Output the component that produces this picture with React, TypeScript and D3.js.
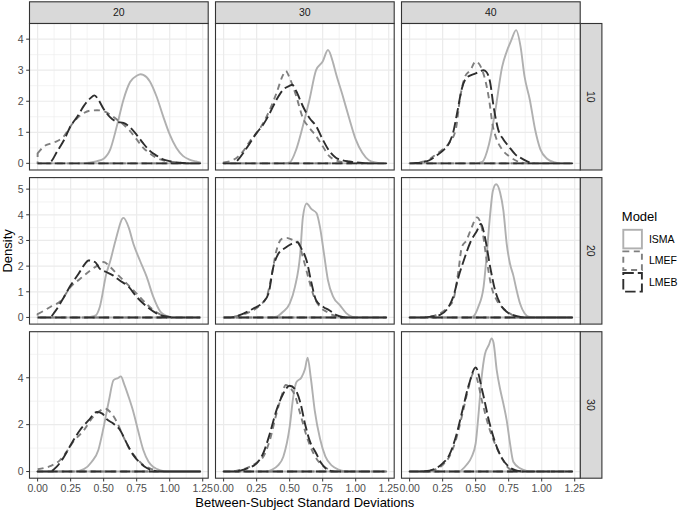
import * as d3 from 'd3';

const colLabels = ['20', '30', '40'];
const rowLabels = ['10', '20', '30'];
const models = ['ISMA', 'LMEF', 'LMEB'];
const xTicks = [0, 0.25, 0.5, 0.75, 1, 1.25];
const yTicksByRow = [[0, 1, 2, 3, 4], [0, 1, 2, 3, 4, 5], [0, 2, 4]];
const xRange = [0, 1.23];

// density estimates as [sd, density] pairs
// naming: model_row_col
const isma_10_20 = [[0,0],[0.35,0],[0.4,0.03],[0.45,0.07],[0.5,0.15],[0.55,0.45],[0.6,1.2],[0.65,2.05],[0.7,2.62],[0.75,2.82],[0.78,2.87],[0.8,2.85],[0.85,2.64],[0.9,2.16],[0.95,1.52],[1.0,0.93],[1.05,0.5],[1.1,0.24],[1.15,0.12],[1.2,0.06],[1.23,0.03]];
const lmef_10_20 = [[0,0.32],[0.05,0.55],[0.1,0.64],[0.15,0.72],[0.2,0.88],[0.25,1.2],[0.3,1.46],[0.35,1.62],[0.4,1.7],[0.45,1.71],[0.5,1.68],[0.55,1.57],[0.6,1.41],[0.65,1.25],[0.7,1.04],[0.75,0.77],[0.8,0.5],[0.85,0.32],[0.9,0.18],[0.95,0.1],[1.0,0.06],[1.05,0.03],[1.1,0.01],[1.15,0],[1.23,0]];
const lmeb_10_20 = [[0,0],[0.08,0],[0.1,0.05],[0.15,0.4],[0.2,0.75],[0.25,1.2],[0.3,1.5],[0.35,1.85],[0.4,2.1],[0.43,2.19],[0.46,2.05],[0.5,1.75],[0.55,1.48],[0.6,1.34],[0.65,1.3],[0.7,1.16],[0.75,0.92],[0.8,0.64],[0.85,0.4],[0.9,0.25],[0.95,0.13],[1.0,0.07],[1.05,0.03],[1.1,0.01],[1.15,0],[1.23,0]];

const isma_10_30 = [[0,0],[0.45,0],[0.5,0.03],[0.55,0.45],[0.6,1.2],[0.65,2.05],[0.7,3.0],[0.75,3.28],[0.79,3.65],[0.83,3.22],[0.85,2.9],[0.9,2.2],[0.95,1.46],[1.0,0.77],[1.05,0.34],[1.1,0.1],[1.15,0.03],[1.2,0],[1.23,0]];
const lmef_10_30 = [[0,0.03],[0.05,0.07],[0.1,0.18],[0.15,0.4],[0.2,0.72],[0.25,0.98],[0.3,1.3],[0.35,1.73],[0.4,2.26],[0.45,2.85],[0.47,2.98],[0.5,2.75],[0.55,2.16],[0.6,1.46],[0.65,1.14],[0.7,0.88],[0.75,0.55],[0.8,0.23],[0.85,0.1],[0.9,0.04],[0.95,0.02],[1.0,0],[1.23,0]];
const lmeb_10_30 = [[0,0],[0.08,0],[0.1,0.07],[0.15,0.34],[0.2,0.66],[0.25,0.98],[0.3,1.25],[0.35,1.62],[0.4,2.05],[0.45,2.37],[0.5,2.5],[0.52,2.53],[0.55,2.32],[0.6,1.84],[0.65,1.46],[0.7,1.2],[0.75,0.77],[0.8,0.4],[0.85,0.18],[0.9,0.1],[0.95,0.06],[1.0,0.03],[1.05,0.01],[1.1,0],[1.23,0]];

const isma_10_40 = [[0,0],[0.5,0],[0.55,0.05],[0.6,0.6],[0.65,1.73],[0.7,3.1],[0.735,3.6],[0.77,3.97],[0.806,4.29],[0.84,3.76],[0.87,2.8],[0.91,2.05],[0.95,1.09],[0.99,0.45],[1.04,0.15],[1.1,0.03],[1.15,0],[1.23,0]];
const lmef_10_40 = [[0,0],[0.05,0.01],[0.1,0.05],[0.15,0.13],[0.2,0.29],[0.25,0.45],[0.3,0.66],[0.35,1.1],[0.38,2.05],[0.42,2.8],[0.46,3.0],[0.5,3.28],[0.55,3.0],[0.6,2.1],[0.63,1.2],[0.65,0.88],[0.7,0.45],[0.75,0.24],[0.8,0.1],[0.85,0.02],[0.9,0],[1.23,0]];
const lmeb_10_40 = [[0,0],[0.05,0.01],[0.1,0.04],[0.15,0.1],[0.2,0.24],[0.25,0.4],[0.3,0.66],[0.33,1.0],[0.36,1.63],[0.395,2.4],[0.43,2.75],[0.5,2.9],[0.56,3.0],[0.58,2.95],[0.61,2.6],[0.635,1.85],[0.67,1.1],[0.71,0.77],[0.75,0.55],[0.8,0.29],[0.86,0.13],[0.91,0.03],[0.95,0],[1.23,0]];

const isma_20_20 = [[0,0],[0.36,0],[0.4,0.02],[0.44,0.08],[0.47,0.4],[0.52,1.7],[0.55,2.2],[0.59,3.0],[0.65,3.88],[0.69,3.5],[0.725,2.87],[0.776,2.2],[0.826,1.58],[0.876,0.8],[0.93,0.22],[0.98,0.05],[1.03,0],[1.23,0]];
const lmef_20_20 = [[0,0.13],[0.05,0.27],[0.1,0.42],[0.18,0.67],[0.25,1.19],[0.32,1.5],[0.4,1.83],[0.46,2.05],[0.5,2.16],[0.55,1.96],[0.6,1.7],[0.675,1.32],[0.75,0.93],[0.83,0.5],[0.9,0.2],[0.95,0.07],[1.0,0.02],[1.05,0],[1.23,0]];
const lmeb_20_20 = [[0,0],[0.09,0],[0.13,0.22],[0.2,0.8],[0.25,1.25],[0.31,1.7],[0.36,2.1],[0.385,2.22],[0.435,2.16],[0.47,1.9],[0.52,1.77],[0.57,1.64],[0.62,1.45],[0.69,1.19],[0.75,0.8],[0.83,0.41],[0.9,0.16],[0.98,0.03],[1.05,0],[1.23,0]];

const isma_20_30 = [[0,0],[0.35,0],[0.4,0.03],[0.45,0.22],[0.5,0.54],[0.54,1.19],[0.58,2.48],[0.6,3.9],[0.628,4.44],[0.666,4.22],[0.704,4.06],[0.73,3.51],[0.76,2.48],[0.79,1.45],[0.83,0.8],[0.88,0.48],[0.93,0.16],[0.97,0.03],[1.0,0],[1.23,0]];
const lmef_20_30 = [[0,0],[0.05,0.01],[0.125,0.09],[0.2,0.22],[0.276,0.48],[0.326,0.8],[0.364,1.64],[0.4,2.61],[0.44,3.06],[0.477,3.1],[0.53,3.0],[0.565,2.93],[0.6,2.35],[0.64,1.58],[0.68,0.87],[0.73,0.41],[0.78,0.22],[0.83,0.09],[0.88,0.02],[0.92,0],[1.23,0]];
const lmeb_20_30 = [[0,0],[0.05,0],[0.1,0.05],[0.15,0.15],[0.225,0.35],[0.3,0.6],[0.34,0.93],[0.376,1.96],[0.414,2.48],[0.465,2.71],[0.515,2.87],[0.557,2.93],[0.59,2.67],[0.628,2.22],[0.666,1.32],[0.7,0.67],[0.755,0.41],[0.8,0.28],[0.855,0.09],[0.9,0.02],[0.95,0],[1.23,0]];

const isma_20_40 = [[0,0],[0.45,0],[0.48,0.03],[0.52,0.41],[0.56,1.19],[0.58,2.22],[0.61,4.03],[0.63,4.93],[0.655,5.19],[0.685,4.87],[0.71,4.16],[0.735,2.87],[0.76,2.09],[0.785,1.64],[0.81,1.06],[0.836,0.54],[0.87,0.16],[0.9,0.03],[0.95,0],[1.23,0]];
const lmef_20_40 = [[0,0],[0.1,0],[0.15,0.03],[0.2,0.09],[0.25,0.22],[0.3,0.45],[0.33,0.67],[0.37,1.83],[0.395,2.74],[0.43,3.0],[0.47,3.51],[0.51,3.9],[0.546,3.51],[0.58,2.35],[0.62,1.19],[0.66,0.67],[0.71,0.35],[0.76,0.15],[0.8,0.04],[0.85,0],[1.23,0]];
const lmeb_20_40 = [[0,0],[0.1,0],[0.15,0.02],[0.2,0.06],[0.23,0.1],[0.295,0.41],[0.33,0.8],[0.37,1.58],[0.41,2.22],[0.46,2.93],[0.51,3.38],[0.54,3.64],[0.57,3.13],[0.61,1.96],[0.647,1.06],[0.685,0.54],[0.735,0.22],[0.786,0.09],[0.84,0.02],[0.9,0],[1.23,0]];

const isma_30_20 = [[0,0],[0.28,0],[0.35,0.1],[0.41,0.42],[0.46,0.92],[0.5,1.9],[0.54,3.03],[0.575,3.9],[0.61,3.99],[0.63,4.06],[0.655,3.73],[0.69,3.17],[0.725,2.54],[0.76,1.76],[0.8,0.92],[0.84,0.42],[0.88,0.18],[0.93,0.05],[0.98,0],[1.23,0]];
const lmef_30_20 = [[0,0.1],[0.05,0.15],[0.1,0.24],[0.17,0.49],[0.22,0.85],[0.27,1.27],[0.35,1.76],[0.42,2.33],[0.475,2.6],[0.51,2.68],[0.55,2.54],[0.6,2.11],[0.65,1.48],[0.7,0.92],[0.75,0.56],[0.8,0.28],[0.85,0.14],[0.9,0.05],[0.95,0.01],[1.0,0],[1.23,0]];
const lmeb_30_20 = [[0,0],[0.09,0],[0.145,0.21],[0.2,0.63],[0.25,1.13],[0.32,1.76],[0.385,2.18],[0.45,2.54],[0.49,2.47],[0.52,2.25],[0.575,2.04],[0.625,1.76],[0.675,1.2],[0.725,0.7],[0.78,0.35],[0.83,0.14],[0.88,0.04],[0.93,0],[1.23,0]];

const isma_30_30 = [[0,0],[0.32,0],[0.364,0.07],[0.41,0.25],[0.452,0.63],[0.5,1.9],[0.527,3.17],[0.55,3.8],[0.59,4.02],[0.616,4.37],[0.636,4.86],[0.66,4.0],[0.69,2.6],[0.73,1.4],[0.77,0.65],[0.82,0.25],[0.87,0.08],[0.92,0.01],[0.95,0],[1.23,0]];
const lmef_30_30 = [[0,0],[0.05,0.01],[0.1,0.04],[0.15,0.1],[0.2,0.21],[0.26,0.42],[0.3,0.63],[0.35,1.34],[0.4,2.47],[0.44,3.24],[0.47,3.69],[0.5,3.59],[0.54,3.24],[0.58,2.47],[0.63,1.48],[0.68,0.78],[0.73,0.35],[0.78,0.14],[0.82,0.03],[0.86,0],[1.23,0]];
const lmeb_30_30 = [[0,0],[0.08,0],[0.125,0.04],[0.2,0.18],[0.25,0.35],[0.3,0.78],[0.35,1.62],[0.4,2.61],[0.45,3.31],[0.5,3.66],[0.54,3.52],[0.58,2.96],[0.616,2.04],[0.65,1.34],[0.7,0.78],[0.74,0.35],[0.78,0.1],[0.82,0.02],[0.86,0],[1.23,0]];

const isma_30_40 = [[0,0],[0.38,0],[0.395,0.07],[0.43,0.28],[0.47,0.63],[0.5,1.2],[0.52,2.33],[0.545,4.0],[0.57,5.0],[0.6,5.4],[0.62,5.68],[0.635,5.5],[0.66,4.3],[0.685,3.52],[0.71,2.89],[0.735,2.18],[0.76,1.2],[0.785,0.42],[0.836,0.14],[0.886,0.03],[0.93,0],[1.23,0]];
const lmef_30_40 = [[0,0],[0.1,0.01],[0.15,0.03],[0.2,0.1],[0.25,0.28],[0.3,0.63],[0.35,1.34],[0.4,2.47],[0.45,3.66],[0.48,4.16],[0.5,4.09],[0.55,2.96],[0.6,1.9],[0.65,1.13],[0.7,0.56],[0.75,0.14],[0.8,0.03],[0.85,0],[1.23,0]];
const lmeb_30_40 = [[0,0],[0.05,0],[0.1,0.01],[0.15,0.04],[0.2,0.14],[0.25,0.35],[0.3,0.7],[0.35,1.48],[0.4,2.61],[0.45,3.73],[0.5,4.44],[0.55,3.45],[0.6,2.18],[0.65,1.2],[0.7,0.56],[0.75,0.21],[0.8,0.06],[0.85,0.01],[0.9,0],[1.23,0]];

// panels[row][col] -> curves in model order
const panels = [
  [[isma_10_20, lmef_10_20, lmeb_10_20], [isma_10_30, lmef_10_30, lmeb_10_30], [isma_10_40, lmef_10_40, lmeb_10_40]],
  [[isma_20_20, lmef_20_20, lmeb_20_20], [isma_20_30, lmef_20_30, lmeb_20_30], [isma_20_40, lmef_20_40, lmeb_20_40]],
  [[isma_30_20, lmef_30_20, lmeb_30_20], [isma_30_30, lmef_30_30, lmeb_30_30], [isma_30_40, lmef_30_40, lmeb_30_40]],
];

const modelStyle = {
  ISMA: { color: '#b0b0b0', dash: null },
  LMEF: { color: '#7f7f7f', dash: '6,4.5' },
  LMEB: { color: '#2e2e2e', dash: '10.5,4' },
};

const font = 'Liberation Sans, Arial, Helvetica, sans-serif';

export default function App() {
  const width = 680, height = 513;
  const left = 29.5, top = 23.5;
  const panelW = 178.7, panelH = 146.5;
  const gapX = 7.3, gapY = 7.6, stripH = 21.7;
  const lineW = 1.9;

  const span = xRange[1] - xRange[0];
  const x = d3.scaleLinear()
    .domain([xRange[0] - 0.05 * span, xRange[1] + 0.05 * span])
    .range([0, panelW]);

  const xMinor = [];
  for (let i = 0; i < xTicks.length - 1; i++) xMinor.push((xTicks[i] + xTicks[i + 1]) / 2);

  // free y scale per facet row, ggplot-style 5% expansion
  const yScales = panels.map(row => {
    const mx = d3.max(row.flat(), (curve: number[][]) => d3.max(curve, p => p[1]));
    return d3.scaleLinear().domain([-0.05 * mx, 1.05 * mx]).range([panelH, 0]);
  });

  const yMinorFor = (ticks, y) => {
    const step = ticks[1] - ticks[0];
    const [a, b] = y.domain();
    const out = [];
    for (let v = ticks[0] - step / 2; v <= ticks[ticks.length - 1] + step; v += step) {
      if (v > a && v < b) out.push(v);
    }
    return out;
  };

  const colX = (c) => left + c * (panelW + gapX);
  const rowY = (r) => top + r * (panelH + gapY);
  const rightEdge = colX(2) + panelW;
  const bottomEdge = rowY(2) + panelH;

  const keySize = 21.6;
  const legendX = 621.8, legendY = 228.3;

  return (
    <svg width={width} height={height} style={{ position: 'absolute', left: 0, top: 0, background: '#fff' }} fontFamily={font}>
      <rect width={width} height={height} fill="#fff" />

      {/* column strips */}
      {colLabels.map((lab, c) => (
        <g key={'cs' + c} transform={`translate(${colX(c)},${top - stripH})`}>
          <rect width={panelW} height={stripH} fill="#d9d9d9" stroke="#333" strokeWidth={1.1} />
          <text x={panelW / 2} y={stripH / 2} dy="0.36em" textAnchor="middle" fontSize={10.5} fill="#1a1a1a">{lab}</text>
        </g>
      ))}

      {/* row strips */}
      {rowLabels.map((lab, r) => (
        <g key={'rs' + r} transform={`translate(${rightEdge},${rowY(r)})`}>
          <rect width={stripH} height={panelH} fill="#d9d9d9" stroke="#333" strokeWidth={1.1} />
          <text transform={`translate(${stripH / 2},${panelH / 2}) rotate(90)`} dy="0.36em" textAnchor="middle" fontSize={10.5} fill="#1a1a1a">{lab}</text>
        </g>
      ))}

      {panels.map((row, r) => {
        const y = yScales[r];
        const ticks = yTicksByRow[r];
        const minor = yMinorFor(ticks, y);
        const area = d3.area()
          .x(d => x(d[0]))
          .y0(y(0))
          .y1(d => y(d[1]))
          .curve(d3.curveMonotoneX);
        return row.map((curves, c) => (
          <g key={`p${r}${c}`} transform={`translate(${colX(c)},${rowY(r)})`}>
            <rect width={panelW} height={panelH} fill="#fff" />
            {minor.map(v => <line key={'ym' + v} x1={0} x2={panelW} y1={y(v)} y2={y(v)} stroke="#ebebeb" strokeWidth={0.6} />)}
            {xMinor.map(v => <line key={'xm' + v} y1={0} y2={panelH} x1={x(v)} x2={x(v)} stroke="#ebebeb" strokeWidth={0.6} />)}
            {ticks.map(v => <line key={'yg' + v} x1={0} x2={panelW} y1={y(v)} y2={y(v)} stroke="#ebebeb" strokeWidth={1.2} />)}
            {xTicks.map(v => <line key={'xg' + v} y1={0} y2={panelH} x1={x(v)} x2={x(v)} stroke="#ebebeb" strokeWidth={1.2} />)}
            {curves.map((pts, m) => {
              const st = modelStyle[models[m]];
              return (
                <path key={models[m]} d={area(pts)} fill="none" stroke={st.color} strokeWidth={lineW}
                  strokeDasharray={st.dash || undefined} strokeLinejoin="round" />
              );
            })}
            <rect width={panelW} height={panelH} fill="none" stroke="#333" strokeWidth={1.1} />
            {c === 0 && ticks.map(v => (
              <g key={'yt' + v}>
                <line x1={-3.3} x2={0} y1={y(v)} y2={y(v)} stroke="#333" strokeWidth={1} />
                <text x={-5.8} y={y(v)} dy="0.36em" textAnchor="end" fontSize={10.5} fill="#4d4d4d">{v}</text>
              </g>
            ))}
            {r === 2 && xTicks.map(v => (
              <g key={'xt' + v}>
                <line y1={panelH} y2={panelH + 3.3} x1={x(v)} x2={x(v)} stroke="#333" strokeWidth={1} />
                <text x={x(v)} y={panelH + 13.6} textAnchor="middle" fontSize={10.5} fill="#4d4d4d">{v.toFixed(2)}</text>
              </g>
            ))}
          </g>
        ));
      })}

      {/* axis titles */}
      <text transform={`translate(12.2,${(top + bottomEdge) / 2}) rotate(-90)`} textAnchor="middle" fontSize={13} fill="#000">Density</text>
      <text x={(left + rightEdge) / 2} y={507} textAnchor="middle" fontSize={13} fill="#000">Between-Subject Standard Deviations</text>

      {/* legend */}
      <text x={legendX} y={legendY - 7} fontSize={13} fill="#000">Model</text>
      {models.map((m, i) => {
        const st = modelStyle[m];
        return (
          <g key={'lg' + m} transform={`translate(${legendX},${legendY + i * keySize})`}>
            <rect x={1.5} y={1.5} width={keySize - 3} height={keySize - 3} fill="none" stroke={st.color}
              strokeWidth={lineW} strokeDasharray={st.dash || undefined} />
            <text x={keySize + 5.5} y={keySize / 2} dy="0.36em" fontSize={10.5} fill="#000">{m}</text>
          </g>
        );
      })}
    </svg>
  );
}
